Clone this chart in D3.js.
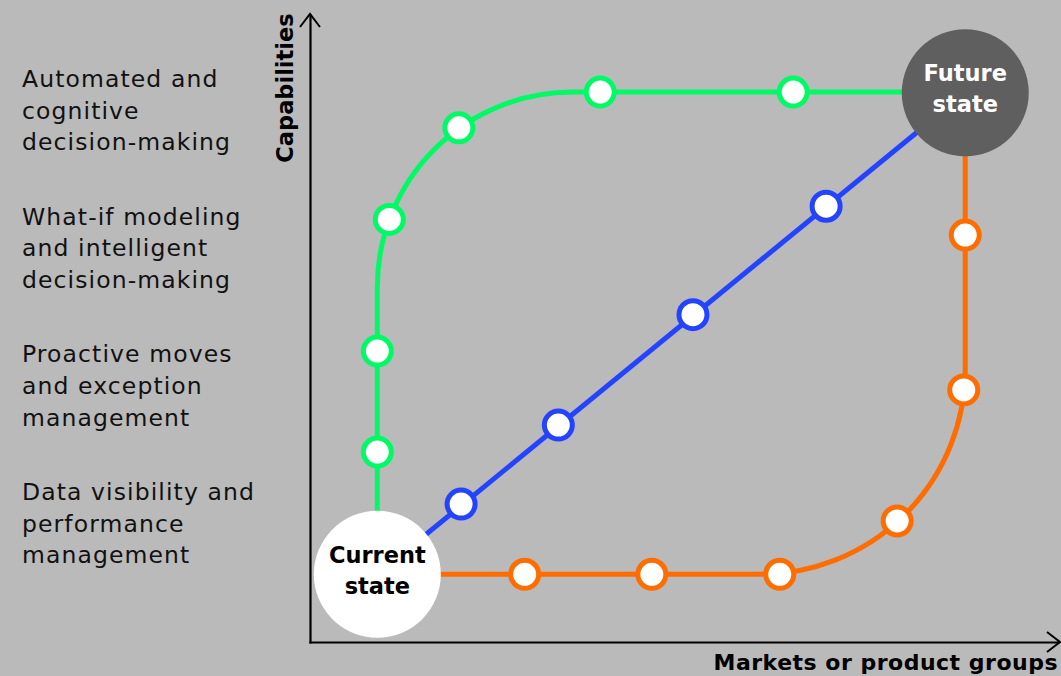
<!DOCTYPE html>
<html>
<head>
<meta charset="utf-8">
<script src="https://cdn.jsdelivr.net/npm/d3@7"></script>
<style>
  body { margin: 0; background: #bababa; }
  svg { display: block; }
  .level { font-family: "DejaVu Sans", sans-serif; font-size: 23.5px; fill: #111; letter-spacing: 1.1px; }
  .axis-label, .state-label { font-family: "DejaVu Sans", sans-serif; font-weight: bold; font-size: 22.5px; }
</style>
</head>
<body>
<div id="chart"></div>
<script>
// capability levels on the left, top to bottom
const levels = [
    ["Automated and", "cognitive", "decision-making"],
    ["What-if modeling", "and intelligent", "decision-making"],
    ["Proactive moves", "and exception", "management"],
    ["Data visibility and", "performance", "management"]
];

const axisNames = ["Markets or product groups", "Capabilities"];

// start and end states (axis units 0..10)
const stateNames = [["Current", "state"], ["Future", "state"]];
const stateX = [0.90, 8.76];
const stateY = [1.08, 8.76];

// routes as corner vertices: [markets, capabilities]
const capabilitiesFirstRoute = [[0.90, 1.08], [0.90, 8.77], [8.76, 8.77]];
const capabilitiesFirstStops = [[0.90, 3.03], [0.90, 4.64], [1.06, 6.74], [1.99, 8.20], [3.88, 8.77], [6.46, 8.77]];

const balancedRoute = [[0.90, 1.08], [8.76, 8.76]];
const balancedStops = [[2.02, 2.20], [3.32, 3.46], [5.12, 5.22], [6.90, 6.95]];

const marketsFirstRoute = [[0.90, 1.08], [8.76, 1.08], [8.76, 8.76]];
const marketsFirstStops = [[2.87, 1.08], [4.57, 1.08], [6.28, 1.08], [7.85, 1.93], [8.74, 4.02], [8.76, 6.49]];

const W = 1061, H = 676;

const svg = d3.select("#chart").append("svg")
    .attr("width", W)
    .attr("height", H);

svg.append("rect").attr("width", W).attr("height", H).attr("fill", "#bababa");

const x = d3.scaleLinear().domain([0, 10]).range([310, 1058]);
const y = d3.scaleLinear().domain([0, 10]).range([642, 15]);

// left-hand level labels
const levelY = d3.scalePoint().domain(d3.range(levels.length)).range([87, 500]);
const levelG = svg.selectAll(".level")
    .data(levels)
    .enter().append("text")
    .attr("class", "level")
    .attr("x", 22)
    .attr("y", (d, i) => levelY(i));
levelG.selectAll("tspan")
    .data(d => d)
    .enter().append("tspan")
    .attr("x", 22)
    .attr("dy", (d, i) => i === 0 ? 0 : 31.7)
    .text(d => d);

// axes (no ticks, just the lines)
svg.append("g")
    .attr("transform", `translate(0, ${y(0)})`)
    .call(d3.axisBottom(x).tickValues([]).tickSizeOuter(0));
svg.append("g")
    .attr("transform", `translate(${x(0)}, 0)`)
    .call(d3.axisLeft(y).tickValues([]).tickSizeOuter(0));
svg.selectAll(".domain")
    .attr("stroke", "#000")
    .attr("stroke-width", 2.2)
    .attr("stroke-linecap", "square");

// arrow heads
const chevron = d3.line();
svg.append("path")
    .attr("d", chevron([[x(10) - 11, y(0) - 10], [x(10) + 2, y(0)], [x(10) - 11, y(0) + 10]]))
    .attr("fill", "none").attr("stroke", "#000").attr("stroke-width", 2);
svg.append("path")
    .attr("d", chevron([[x(0) - 10, y(10) + 12], [x(0), y(10) - 1], [x(0) + 10, y(10) + 12]]))
    .attr("fill", "none").attr("stroke", "#000").attr("stroke-width", 2);

svg.append("text")
    .attr("class", "axis-label")
    .attr("x", 1058)
    .attr("y", 670)
    .attr("text-anchor", "end")
    .style("font-size", "22px")
    .style("letter-spacing", "0.5px")
    .text(axisNames[0]);

svg.append("text")
    .attr("class", "axis-label")
    .attr("transform", "translate(293, 88) rotate(-90)")
    .attr("text-anchor", "middle")
    .text(axisNames[1]);

// route path with rounded corners (radius in px)
function roundedRoute(pts, r) {
    const p = d3.path();
    p.moveTo(x(pts[0][0]), y(pts[0][1]));
    for (let i = 1; i < pts.length - 1; i++) {
        p.arcTo(x(pts[i][0]), y(pts[i][1]), x(pts[i + 1][0]), y(pts[i + 1][1]), r);
    }
    const last = pts[pts.length - 1];
    p.lineTo(x(last[0]), y(last[1]));
    return p.toString();
}

const routes = [
    { path: capabilitiesFirstRoute, stops: capabilitiesFirstStops, color: "#00fa66", r: 195 },
    { path: balancedRoute, stops: balancedStops, color: "#2443ff", r: 0 },
    { path: marketsFirstRoute, stops: marketsFirstStops, color: "#ff6c00", r: 205 }
];

routes.forEach(rt => {
    svg.append("path")
        .attr("d", roundedRoute(rt.path, rt.r))
        .attr("fill", "none")
        .attr("stroke", rt.color)
        .attr("stroke-width", 5);
    svg.selectAll(null)
        .data(rt.stops)
        .enter().append("circle")
        .attr("cx", d => x(d[0]))
        .attr("cy", d => y(d[1]))
        .attr("r", 14)
        .attr("fill", "#fff")
        .attr("stroke", rt.color)
        .attr("stroke-width", 5);
});

// current / future state bubbles
const stateFill = ["#ffffff", "#5f5f5f"];
const stateText = ["#000000", "#ffffff"];
const stateG = svg.selectAll(".state")
    .data(stateNames)
    .enter().append("g")
    .attr("class", "state")
    .attr("transform", (d, i) => `translate(${x(stateX[i])}, ${y(stateY[i])})`);
stateG.append("circle")
    .attr("r", 63.5)
    .attr("fill", (d, i) => stateFill[i]);
stateG.each(function (d, i) {
    d3.select(this).selectAll("text")
        .data(d)
        .enter().append("text")
        .attr("class", "state-label")
        .attr("text-anchor", "middle")
        .attr("y", (t, j) => -11.5 + j * 31)
        .attr("fill", stateText[i])
        .text(t => t);
});
</script>
</body>
</html>
